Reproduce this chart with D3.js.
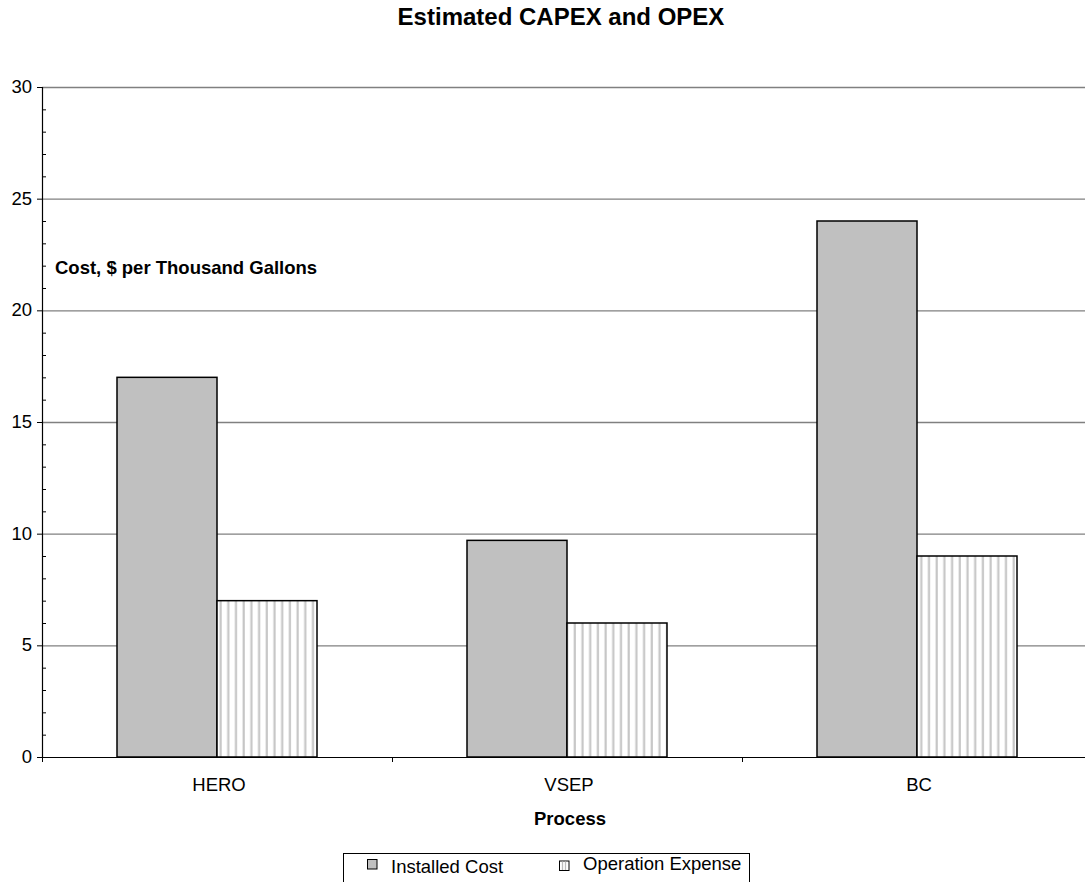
<!DOCTYPE html>
<html><head><meta charset="utf-8">
<script src="https://cdn.jsdelivr.net/npm/d3@7"></script>
<style>body{margin:0;background:#fff}svg{display:block;font-family:"Liberation Sans",Arial,sans-serif}</style>
</head><body>
<svg id="c" width="1085" height="882"></svg>
<script>
const categories = ["HERO", "VSEP", "BC"];
const seriesNames = ["Installed Cost", "Operation Expense"];
const installedCost = [17, 9.7, 24];
const operationExpense = [7, 6, 9];
const yTicks = [0, 5, 10, 15, 20, 25, 30];

const svg = d3.select("#c");
const m = {left: 42, top: 87, bottom: 757, right: 1092};
const x = d3.scaleBand().domain(categories).range([m.left, m.right]);
const y = d3.scaleLinear().domain([0, 30]).range([m.bottom, m.top]);

const defs = svg.append("defs");
const pat = defs.append("pattern").attr("id", "stripes").attr("patternUnits", "userSpaceOnUse")
  .attr("width", 7.7).attr("height", 10).attr("x", 217);
pat.append("rect").attr("width", 7.7).attr("height", 10).attr("fill", "#fff");
pat.append("rect").attr("x", 2.5).attr("width", 2.2).attr("height", 10).attr("fill", "#c6c6c6");

// gridlines
svg.append("g").selectAll("line").data(yTicks.slice(1)).join("line")
  .attr("x1", m.left).attr("x2", 1085).attr("y1", d => y(d) + 0.5).attr("y2", d => y(d) + 0.5)
  .attr("stroke", "#808080").attr("stroke-width", 1.3);

// bars
const barW = 100;
const series = [installedCost, operationExpense];
const fills = ["#c0c0c0", "url(#stripes)"];
series.forEach((vals, si) => {
  svg.append("g").selectAll("rect").data(vals).join("rect")
    .attr("x", (d, i) => x(categories[i]) + x.bandwidth() / 2 - barW + si * barW)
    .attr("y", d => y(d))
    .attr("width", barW)
    .attr("height", d => y(0) - y(d))
    .attr("fill", fills[si])
    .attr("stroke", "#000").attr("stroke-width", 1.5);
});

// y axis
const ya = svg.append("g");
ya.append("line").attr("x1", m.left + 0.5).attr("x2", m.left + 0.5).attr("y1", m.top).attr("y2", m.bottom)
  .attr("stroke", "#000").attr("stroke-width", 1.2);
ya.selectAll(".maj").data(yTicks).join("line")
  .attr("x1", m.left - 5).attr("x2", m.left).attr("y1", d => y(d) + 0.5).attr("y2", d => y(d) + 0.5)
  .attr("stroke", "#000");
ya.selectAll(".min").data(d3.range(0, 31).filter(v => v % 5 !== 0)).join("line")
  .attr("x1", m.left).attr("x2", m.left + 4).attr("y1", d => y(d) + 0.5).attr("y2", d => y(d) + 0.5)
  .attr("stroke", "#000");
ya.selectAll("text").data(yTicks).join("text")
  .attr("x", 32).attr("y", d => y(d) + 6).attr("text-anchor", "end")
  .attr("font-size", 18.5).text(d => d);

// x axis
const xa = svg.append("g");
xa.append("line").attr("x1", m.left).attr("x2", 1085).attr("y1", m.bottom + 0.5).attr("y2", m.bottom + 0.5)
  .attr("stroke", "#000").attr("stroke-width", 1.2);
xa.selectAll(".t").data([m.left, ...categories.slice(1).map(c => x(c))]).join("line")
  .attr("x1", d => d + 0.5).attr("x2", d => d + 0.5).attr("y1", m.bottom).attr("y2", m.bottom + 5)
  .attr("stroke", "#000");
xa.selectAll("text").data(categories).join("text")
  .attr("x", d => x(d) + x.bandwidth() / 2 + 2).attr("y", 791).attr("text-anchor", "middle")
  .attr("font-size", 18.5).text(d => d);

svg.append("text").attr("x", 570).attr("y", 825).attr("text-anchor", "middle")
  .attr("font-size", 18.5).attr("font-weight", "bold").text("Process");
svg.append("text").attr("x", 561).attr("y", 25).attr("text-anchor", "middle")
  .attr("font-size", 24).attr("font-weight", "bold").text("Estimated CAPEX and OPEX");
svg.append("text").attr("x", 55).attr("y", 274)
  .attr("font-size", 18.5).attr("font-weight", "bold").text("Cost, $ per Thousand Gallons");

// legend
const lg = svg.append("g");
lg.append("rect").attr("x", 343.5).attr("y", 853.5).attr("width", 406).attr("height", 40)
  .attr("fill", "#fff").attr("stroke", "#000").attr("stroke-width", 1);
const legX = [367, 559];
const legY = [859, 860.5];
const legTY = [872.5, 869.5];
const legTX = [391, 583];
seriesNames.forEach((n, i) => {
  lg.append("rect").attr("x", legX[i] + 0.5).attr("y", legY[i] + 0.5).attr("width", 9.5).attr("height", 9.5)
    .attr("fill", i === 0 ? "#c0c0c0" : "#fff").attr("stroke", "#000").attr("stroke-width", 1);
  if (i === 1) {
    [3, 6].forEach(dx => lg.append("line").attr("x1", legX[i] + 0.5 + dx).attr("x2", legX[i] + 0.5 + dx)
      .attr("y1", legY[i] + 1).attr("y2", legY[i] + 9.5).attr("stroke", "#bbb").attr("stroke-width", 1.3));
  }
  lg.append("text").attr("x", legTX[i]).attr("y", legTY[i]).attr("font-size", 18.5).text(n);
});
</script>
</body></html>
